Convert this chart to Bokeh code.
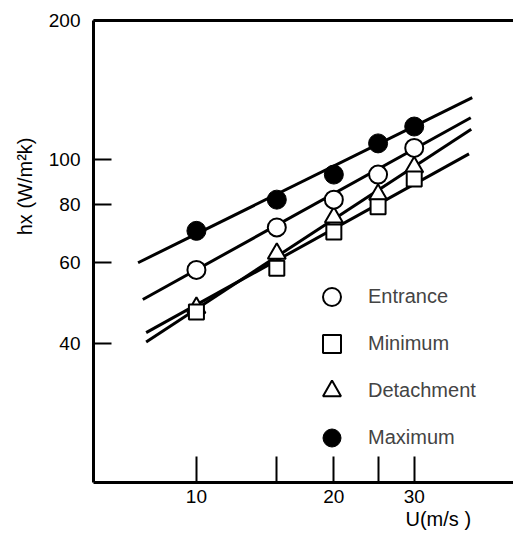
from bokeh.plotting import figure
from bokeh.models import (FixedTicker, LogAxis, Legend, LegendItem, Title)
from bokeh.embed import file_html
from bokeh.resources import INLINE

# ---- data ----
u = [10, 15, 20, 25, 30]                       # U (m/s)
h_entrance   = [57.7, 71.3, 81.9, 92.8, 106.0]
h_minimum    = [46.8, 58.2, 69.7, 79.0, 90.8]
h_detachment = [47.8, 62.6, 75.0, 84.0, 96.3]
h_maximum    = [70.1, 81.9, 92.8, 108.4, 117.9]

# fitted lines (end points)
fit_u_max = [7.45, 40.2];  fit_h_max = [59.8, 136.2]
fit_u_ent = [7.63, 39.9];  fit_h_ent = [49.8, 123.2]
fit_u_min = [7.76, 39.55]; fit_h_min = [42.2, 102.9]
fit_u_det = [7.76, 40.0];  fit_h_det = [40.3, 116.3]

x_ticks = [10, 15, 20, 25, 30]
x_tick_labels = {10: "10", 15: "", 20: "20", 25: "", 30: "30"}
y_ticks = [40, 60, 80, 100, 200]

FONT = "Liberation Sans"

p = figure(width=513, height=533, x_axis_type="log", y_axis_type="log",
           x_range=(5.95, 49.5), y_range=(20, 200),
           output_backend="svg", toolbar_location=None,
           min_border_left=93, min_border_right=0, min_border_top=20,
           min_border_bottom=51)
p.grid.visible = False
p.outline_line_color = None
p.background_fill_color = "white"
p.border_fill_color = "white"

# axes
xa = p.xaxis[0]
xa.ticker = FixedTicker(ticks=x_ticks)
xa.major_label_overrides = x_tick_labels
ya = p.yaxis[0]
ya.ticker = FixedTicker(ticks=y_ticks)
for ax in (xa, ya):
    ax.axis_line_width = 3
    ax.axis_line_color = "black"
    ax.major_tick_out = 0
    ax.major_tick_line_width = 2
    ax.minor_tick_in = 0
    ax.minor_tick_out = 0
    ax.major_label_text_font = FONT
    ax.major_label_text_font_size = "19px"
    ax.major_label_text_color = "black"
xa.major_tick_in = 26
ya.major_tick_in = 18
xa.major_label_standoff = 7
ya.major_label_standoff = 13

top = LogAxis(ticker=FixedTicker(ticks=[]), axis_line_width=3,
              major_tick_in=0, major_tick_out=0, minor_tick_in=0,
              minor_tick_out=0, major_label_text_font_size="0px")
p.add_layout(top, "above")

# fitted lines
for fx, fy in ((fit_u_max, fit_h_max), (fit_u_ent, fit_h_ent),
               (fit_u_min, fit_h_min), (fit_u_det, fit_h_det)):
    p.line(fx, fy, line_color="black", line_width=3)

# markers
r_det = p.scatter(u, h_detachment, marker="triangle", size=18,
                  fill_color="white", line_color="black", line_width=2)
r_min = p.scatter(u, h_minimum, marker="square", size=15,
                  fill_color="white", line_color="black", line_width=2)
r_ent = p.scatter(u, h_entrance, marker="circle", size=18,
                  fill_color="white", line_color="black", line_width=2)
r_max = p.scatter(u, h_maximum, marker="circle", size=19,
                  fill_color="black", line_color="black", line_width=1)

legend = Legend(items=[LegendItem(label="Entrance", renderers=[r_ent]),
                       LegendItem(label="Minimum", renderers=[r_min]),
                       LegendItem(label="Detachment", renderers=[r_det]),
                       LegendItem(label="Maximum", renderers=[r_max])],
                location=(216, 22), glyph_width=45, glyph_height=45,
                spacing=2, padding=0, margin=0, label_standoff=14,
                label_text_font=FONT, label_text_font_size="20px",
                background_fill_alpha=0, border_line_color=None)
p.add_layout(legend)

# axis titles
p.add_layout(Title(text="hx (W/m²k)", align="right", offset=117, standoff=20,
                   text_font=FONT, text_font_size="20px",
                   text_font_style="normal", text_color="black"), "left")
p.add_layout(Title(text="U(m/s )", align="left", offset=312, standoff=0,
                   text_font=FONT, text_font_size="20px",
                   text_font_style="normal", text_color="black"), "below")

open("out.html", "w").write(file_html(p, INLINE))
